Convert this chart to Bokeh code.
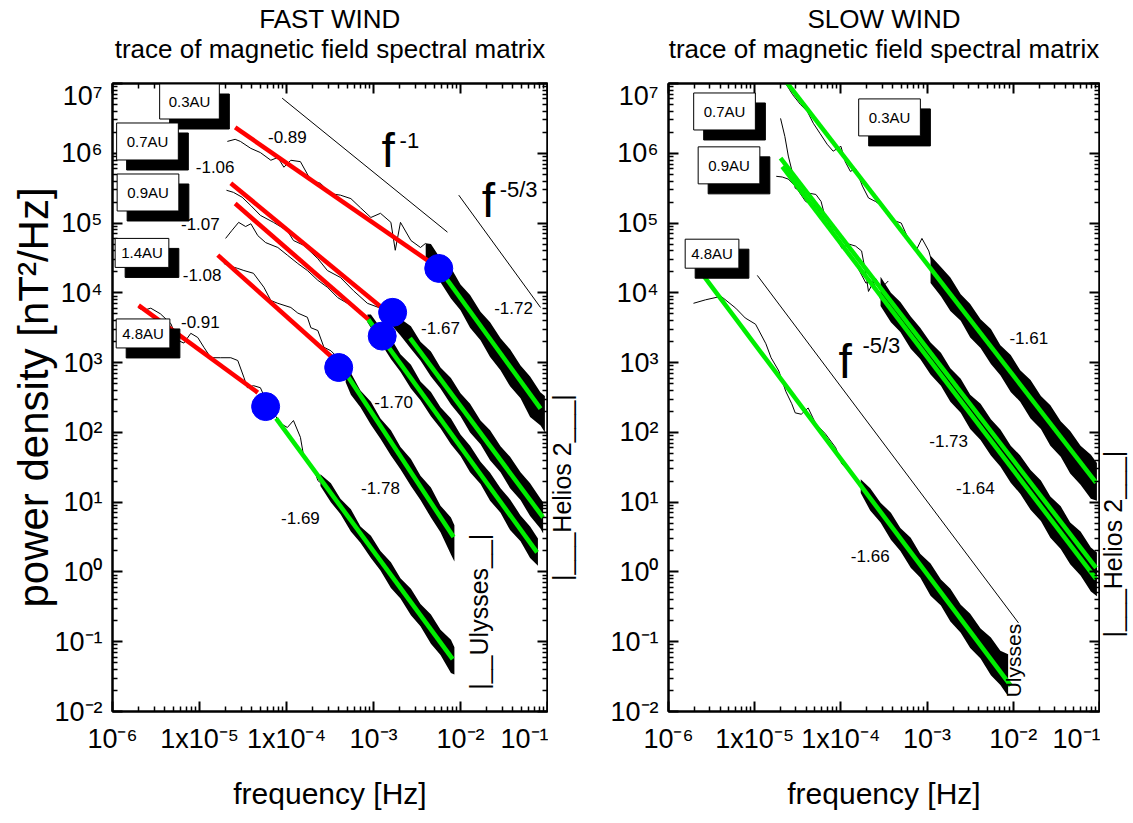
import numpy as np
from bokeh.plotting import figure
from bokeh.layouts import row, column
from bokeh.models import Range1d, LogAxis, FixedTicker, CustomJSTickFormatter, Label
from bokeh.embed import file_html
from bokeh.resources import INLINE
from bokeh.core.properties import value

FONT = "Liberation Sans"
RED = "#ff0000"
GREEN = "#00ee00"
BLUE = "#0000ff"

# ---------------------------------------------------------------- titles
panel_titles = ["FAST WIND", "SLOW WIND"]
panel_subtitle = "trace of magnetic field spectral matrix"

# ---------------------------------------------------------------- axes / ticks
# all chart values below are powers of ten (decade exponents)
x_range_exp = [-6, -1]
y_range_exp = [-2, 7]
x_tick_exp = [-6, -5, -4, -3, -2, -1]
x_tick_labels = ["10⁻⁶", "1x10⁻⁵", "1x10⁻⁴", "10⁻³", "10⁻²", "10⁻¹"]
y_tick_exp = [-2, -1, 0, 1, 2, 3, 4, 5, 6, 7]
y_tick_labels = ["10⁻²", "10⁻¹", "10⁰", "10¹", "10²", "10³", "10⁴", "10⁵", "10⁶", "10⁷"]

# ---------------------------------------------------------------- FAST WIND spectra
fast_names = ["0.3AU", "0.7AU", "0.9AU", "1.4AU", "4.8AU"]

fast_03_thin_logf = [-4.68, -4.59, -4.53, -4.41, -4.30, -4.18, -4.10, -4.03, -3.95, -3.84, -3.72, -3.61,
                     -3.49, -3.38, -3.26, -3.15, -3.03, -2.92, -2.80, -2.75, -2.69, -2.57, -2.46, -2.40]
fast_03_thin_logP = [6.17, 6.20, 6.17, 6.07, 6.01, 5.90, 5.94, 5.80, 5.90, 5.88, 5.61, 5.57,
                     5.42, 5.40, 5.35, 5.22, 5.08, 5.14, 5.01, 4.61, 5.01, 4.75, 4.65, 4.71]
fast_03_band_logf = [-2.40, -2.34, -2.23, -2.11, -2.00, -1.89, -1.77, -1.66, -1.54, -1.43, -1.31, -1.20, -1.08, -1.03]
fast_03_band_hi = [4.71, 4.70, 4.49, 4.36, 4.12, 3.97, 3.73, 3.58, 3.35, 3.19, 2.96, 2.80, 2.57, 2.52]
fast_03_band_lo = [4.49, 4.33, 4.15, 3.92, 3.75, 3.50, 3.32, 3.08, 2.89, 2.66, 2.49, 2.22, 2.10, 2.00]

fast_07_thin_logf = [-4.69, -4.61, -4.51, -4.41, -4.30, -4.15, -3.99, -3.92, -3.80, -3.64, -3.53, -3.38, -3.23, -3.07, -2.92, -2.86]
fast_07_thin_logP = [5.47, 5.44, 5.37, 5.25, 5.11, 5.01, 4.89, 4.75, 4.68, 4.49, 4.32, 4.22, 4.03, 3.85, 3.78, 3.82]
fast_07_band_logf = [-2.86, -2.80, -2.69, -2.57, -2.46, -2.34, -2.23, -2.11, -2.00, -1.89, -1.77, -1.66, -1.54,
                     -1.43, -1.31, -1.20, -1.08, -1.05]
fast_07_band_hi = [3.82, 3.80, 3.63, 3.52, 3.30, 3.16, 2.93, 2.78, 2.56, 2.41, 2.17, 2.03, 1.80, 1.65, 1.43, 1.27, 1.05, 1.00]
fast_07_band_lo = [3.63, 3.55, 3.39, 3.20, 3.03, 2.80, 2.63, 2.40, 2.23, 2.00, 1.83, 1.60, 1.43, 1.20, 1.03, 0.80, 0.62, 0.55]

fast_09_thin_logf = [-4.70, -4.63, -4.55, -4.47, -4.41, -4.33, -4.24, -4.10, -3.99, -3.87, -3.76, -3.64, -3.53,
                     -3.41, -3.30, -3.18, -3.07]
fast_09_thin_logP = [4.78, 4.89, 5.01, 4.95, 4.99, 4.82, 4.72, 4.65, 4.54, 4.42, 4.32, 4.18, 4.08, 3.93, 3.85, 3.75, 3.63]
fast_09_band_logf = [-3.07, -3.03, -2.92, -2.80, -2.69, -2.57, -2.46, -2.34, -2.23, -2.11, -2.00, -1.89, -1.77,
                     -1.66, -1.54, -1.43, -1.31, -1.20, -1.11]
fast_09_band_hi = [3.69, 3.69, 3.50, 3.35, 3.12, 2.97, 2.73, 2.58, 2.36, 2.20, 1.97, 1.81, 1.58, 1.42, 1.20, 1.04, 0.81, 0.65, 0.48]
fast_09_band_lo = [3.58, 3.50, 3.29, 3.05, 2.87, 2.63, 2.46, 2.23, 2.06, 1.83, 1.66, 1.43, 1.26, 1.02, 0.85, 0.60, 0.44, 0.20, 0.09]

fast_14_thin_logf = [-4.72, -4.64, -4.56, -4.49, -4.38, -4.26, -4.18, -4.10, -3.95, -3.87, -3.76, -3.72, -3.64,
                     -3.57, -3.49, -3.41, -3.32]
fast_14_thin_logP = [4.42, 4.38, 4.35, 4.32, 4.28, 4.08, 3.89, 3.85, 3.79, 3.71, 3.65, 3.50, 3.46, 3.22, 3.17, 3.07, 2.92]
fast_14_band_logf = [-3.32, -3.26, -3.15, -3.03, -2.92, -2.80, -2.69, -2.57, -2.46, -2.34, -2.23, -2.11, -2.07]
fast_14_band_hi = [2.92, 2.85, 2.60, 2.44, 2.20, 2.03, 1.79, 1.62, 1.38, 1.21, 0.95, 0.78, 0.67]
fast_14_band_lo = [2.72, 2.54, 2.36, 2.11, 1.91, 1.67, 1.47, 1.23, 1.03, 0.78, 0.57, 0.25, 0.15]

fast_48_thin_logf = [-5.70, -5.64, -5.56, -5.45, -5.33, -5.25, -5.18, -5.10, -5.02, -4.95, -4.87, -4.76, -4.64,
                     -4.56, -4.49, -4.45, -4.38, -4.30, -4.21, -4.07, -3.99, -3.92, -3.84, -3.80, -3.76, -3.69,
                     -3.64, -3.61]
fast_48_thin_logP = [3.78, 3.75, 3.78, 3.70, 3.56, 3.32, 3.28, 3.42, 3.36, 3.22, 3.07, 3.07, 3.07, 3.03, 2.79,
                     2.64, 2.67, 2.64, 2.39, 2.13, 2.07, 2.17, 1.93, 1.64, 1.56, 1.50, 1.31, 1.28]
fast_48_band_logf = [-3.61, -3.49, -3.38, -3.26, -3.15, -3.03, -2.92, -2.80, -2.69, -2.57, -2.46, -2.34, -2.23, -2.11, -2.07]
fast_48_band_hi = [1.40, 1.27, 1.05, 0.90, 0.65, 0.52, 0.30, 0.14, -0.09, -0.24, -0.46, -0.61, -0.83, -0.97, -1.08]
fast_48_band_lo = [1.23, 1.00, 0.83, 0.58, 0.42, 0.20, 0.02, -0.23, -0.38, -0.62, -0.78, -1.03, -1.19, -1.45, -1.47]

# fits: red = low-frequency fit, green = inertial-range fit, blue = break point
fast_red_logf0 = [-4.59, -4.64, -4.59, -4.79, -5.70]
fast_red_logP0 = [6.37, 5.57, 5.28, 4.54, 3.82]
fast_red_logf1 = [-2.28, -2.83, -3.06, -3.47, -4.33]
fast_red_logP1 = [4.38, 3.71, 3.62, 3.07, 2.57]
fast_green_logf0 = [-2.23, -2.58, -3.06, -3.32, -4.12]
fast_green_logP0 = [4.32, 3.35, 3.62, 2.85, 2.20]
fast_green_logf1 = [-1.08, -1.05, -1.12, -2.08, -2.09]
fast_green_logP1 = [2.34, 0.78, 0.28, 0.50, -1.25]
fast_break_logf = [-2.25, -2.78, -2.90, -3.40, -4.24]
fast_break_logP = [4.35, 3.72, 3.38, 2.93, 2.37]

fast_slope_text = ["-0.89", "-1.06", "-1.07", "-1.08", "-0.91", "-1.72", "-1.67", "-1.70", "-1.78", "-1.69"]
fast_slope_logf = [-3.99, -4.82, -4.99, -4.97, -4.99, -1.39, -2.23, -2.77, -2.92, -3.84]
fast_slope_logP = [6.23, 5.80, 4.99, 4.25, 3.58, 3.78, 3.49, 2.43, 1.20, 0.77]

# reference power laws f^-1 and f^-5/3
fast_ref_logf0 = [-4.05, -2.02]
fast_ref_logP0 = [6.79, 5.40]
fast_ref_logf1 = [-2.15, -1.08]
fast_ref_logP1 = [4.87, 3.79]

fast_box_logf = [-5.115, -5.598, -5.592, -5.661, -5.649]
fast_box_logP = [6.742, 6.169, 5.438, 4.572, 3.418]
fast_box_pad = [9, 10, 10, 6, 6]

# ---------------------------------------------------------------- SLOW WIND spectra
slow_names = ["0.3AU", "0.7AU", "0.9AU", "4.8AU"]

slow_03_thin_logf = [-4.66, -4.64, -4.56, -4.47, -4.39, -4.32, -4.24, -4.16, -4.09, -4.00, -3.95, -3.89, -3.83,
                     -3.75, -3.68, -3.60, -3.48, -3.37, -3.30, -3.22, -3.13, -3.06, -2.98, -2.90]
slow_03_thin_logP = [7.05, 7.00, 6.84, 6.70, 6.60, 6.43, 6.28, 6.13, 6.03, 6.10, 5.88, 5.74, 5.78,
                     5.53, 5.36, 5.31, 5.21, 5.03, 5.00, 4.78, 4.60, 4.78, 4.60, 4.24]
slow_03_band_logf = [-2.96, -2.84, -2.73, -2.61, -2.50, -2.38, -2.26, -2.15, -2.03, -1.92, -1.80, -1.68, -1.57,
                     -1.45, -1.34, -1.22, -1.10, -1.03]
slow_03_band_hi = [4.53, 4.37, 4.22, 3.98, 3.84, 3.62, 3.48, 3.25, 3.11, 2.89, 2.75, 2.52, 2.39, 2.16, 2.02, 1.81, 1.68, 1.56]
slow_03_band_lo = [4.14, 3.95, 3.74, 3.60, 3.36, 3.21, 2.98, 2.82, 2.58, 2.44, 2.20, 2.05, 1.81, 1.65, 1.41, 1.25, 1.05, 1.02]

slow_07_thin_logf = [-4.70, -4.65, -4.61, -4.56, -4.53, -4.46, -4.38, -4.29, -4.23, -4.18, -4.11, -3.99, -3.91,
                     -3.83, -3.76, -3.71, -3.68, -3.60, -3.53, -3.45]
slow_07_thin_logP = [6.50, 6.24, 5.96, 5.71, 5.50, 5.45, 5.43, 5.41, 5.31, 5.07, 4.93, 4.64, 4.70,
                     4.67, 4.60, 4.27, 4.02, 4.21, 4.07, 4.17]
slow_0709_band_logf = [-3.54, -3.42, -3.31, -3.19, -3.08, -2.96, -2.84, -2.73, -2.61, -2.50, -2.38, -2.26, -2.15,
                       -2.03, -1.92, -1.80, -1.68, -1.57, -1.45, -1.34, -1.22, -1.10, -1.03]
slow_07_band_hi = [4.23, 4.00, 3.87, 3.66, 3.50, 3.29, 3.14, 2.92, 2.77, 2.54, 2.41, 2.19, 2.04, 1.81, 1.67,
                   1.46, 1.31, 1.08, 0.94, 0.71, 0.58, 0.35, 0.28]
slow_07_band_lo = [3.95, 3.77, 3.56, 3.41, 3.18, 3.05, 2.81, 2.67, 2.44, 2.29, 2.07, 1.92, 1.70, 1.55, 1.32,
                   1.18, 0.95, 0.81, 0.58, 0.43, 0.21, 0.08, -0.03]

slow_09_thin_logf = [-4.75, -4.68, -4.61, -4.53, -4.41, -4.29, -4.18, -4.06, -3.95, -3.83, -3.71, -3.63, -3.54]
slow_09_thin_logP = [5.67, 5.66, 5.63, 5.53, 5.31, 5.24, 5.03, 4.81, 4.60, 4.42, 4.14, 4.17, 3.91]
slow_09_band_hi = [4.02, 3.85, 3.71, 3.48, 3.33, 3.11, 2.96, 2.74, 2.59, 2.36, 2.22, 1.99, 1.85, 1.62, 1.47,
                   1.25, 1.10, 0.88, 0.73, 0.50, 0.36, 0.15, 0.06]
slow_09_band_lo = [3.81, 3.58, 3.44, 3.20, 3.05, 2.83, 2.67, 2.44, 2.28, 2.05, 1.89, 1.67, 1.51, 1.28, 1.12,
                   0.89, 0.73, 0.49, 0.33, 0.11, -0.05, -0.28, -0.35]

slow_48_thin_logf = [-5.71, -5.57, -5.39, -5.22, -5.11, -4.99, -4.87, -4.81, -4.72, -4.64, -4.57, -4.53, -4.46,
                     -4.38, -4.29, -4.18, -4.06, -3.99, -3.91, -3.83, -3.76]
slow_48_thin_logP = [3.85, 3.90, 3.95, 3.78, 3.64, 3.55, 3.27, 3.07, 2.88, 2.59, 2.41, 2.28, 2.26,
                     2.35, 2.12, 1.98, 1.78, 1.55, 1.45, 1.31, 1.21]
slow_48_band_logf = [-3.77, -3.66, -3.54, -3.42, -3.31, -3.19, -3.08, -2.96, -2.84, -2.73, -2.61, -2.50, -2.38,
                     -2.26, -2.15, -2.06]
slow_48_band_hi = [1.33, 1.20, 0.99, 0.85, 0.63, 0.49, 0.26, 0.12, -0.11, -0.24, -0.47, -0.60, -0.81, -0.94, -1.13, -1.18]
slow_48_band_lo = [1.13, 0.88, 0.71, 0.46, 0.30, 0.06, -0.08, -0.34, -0.48, -0.71, -0.87, -1.09, -1.24, -1.48, -1.62, -1.78]

slow_green_logf0 = [-4.65, -4.70, -4.68, -5.59]
slow_green_logP0 = [7.05, 5.93, 5.81, 4.24]
slow_green_logf1 = [-1.04, -1.04, -1.04, -2.03]
slow_green_logP1 = [1.28, 0.06, -0.10, -1.63]

slow_slope_text = ["-1.61", "-1.73", "-1.64", "-1.66"]
slow_slope_logf = [-1.82, -2.75, -2.44, -3.66]
slow_slope_logP = [3.35, 1.88, 1.21, 0.23]

slow_ref_logf0 = [-4.97]
slow_ref_logP0 = [4.25]
slow_ref_logf1 = [-1.94]
slow_ref_logP1 = [-0.73]

slow_box_logf = [-3.436, -5.350, -5.298, -5.495]
slow_box_logP = [6.514, 6.599, 5.827, 4.561]
slow_box_pad = [10, 10, 10, 6]

# ---------------------------------------------------------------- layout (pixels)
TITLE_H, TOP, FRAME_H, BOTTOM = 80, 3, 628, 105
P1_LEFT, P1_W, S1_W, P2_LEFT, P2_W, S2_W = 112, 435, 52, 68, 431, 30


def pw(a):
    return [10.0 ** v for v in a]


def tick_fmt(exps, labels):
    return CustomJSTickFormatter(args=dict(exps=exps, labels=labels), code="""
        const e = Math.round(Math.log10(tick));
        const i = exps.indexOf(e);
        return i >= 0 ? labels[i] : "";
    """)


def blank_fmt():
    return CustomJSTickFormatter(code="return '';")


def ticker(exps):
    majors = [10.0 ** e for e in exps]
    minors = [m * 10.0 ** e for e in exps[:-1] for m in range(2, 10)]
    return FixedTicker(ticks=majors, minor_ticks=minors)


def style_axis(ax, tk, fmt, labelled, standoff=10):
    ax.ticker = tk
    ax.formatter = fmt
    ax.major_tick_in = 10
    ax.major_tick_out = 0
    ax.minor_tick_in = 5
    ax.minor_tick_out = 0
    ax.axis_line_width = 2
    ax.major_tick_line_width = 2
    ax.minor_tick_line_width = 1.5
    ax.major_label_text_font = FONT
    ax.major_label_text_color = "black"
    ax.major_label_text_font_size = "27px" if labelled else "0px"
    ax.major_label_standoff = standoff if labelled else 0
    ax.axis_label_text_font = FONT
    ax.axis_label_text_font_style = "normal"
    ax.axis_label_text_color = "black"


def make_panel(frame_w, border_left, ylabel):
    p = figure(x_axis_type="log", y_axis_type="log", title=None,
               x_range=Range1d(10.0 ** x_range_exp[0], 10.0 ** x_range_exp[1]),
               y_range=Range1d(10.0 ** y_range_exp[0], 10.0 ** y_range_exp[1]),
               frame_width=frame_w, frame_height=FRAME_H,
               min_border_left=border_left, min_border_right=1,
               min_border_top=TOP, min_border_bottom=BOTTOM,
               output_backend="svg", toolbar_location=None,
               outline_line_color="black", outline_line_width=2,
               background_fill_color="white", border_fill_color="white")
    p.grid.visible = False
    top = LogAxis()
    right = LogAxis()
    p.add_layout(top, "above")
    p.add_layout(right, "right")
    style_axis(p.below[0], ticker(x_tick_exp), tick_fmt(x_tick_exp, x_tick_labels), True, 12)
    style_axis(p.left[0], ticker(y_tick_exp), tick_fmt(y_tick_exp, y_tick_labels), True, 10)
    style_axis(top, ticker(x_tick_exp), blank_fmt(), False)
    style_axis(right, ticker(y_tick_exp), blank_fmt(), False)
    p.below[0].axis_label = "frequency [Hz]"
    p.below[0].axis_label_text_font_size = "30px"
    p.below[0].axis_label_standoff = 20
    if ylabel:
        p.left[0].axis_label = ylabel
        p.left[0].axis_label_text_font_size = "42px"
        p.left[0].axis_label_standoff = -6
    return p


def side_strip(frame_w):
    s = figure(y_axis_type="log", title=None, x_range=Range1d(0, 1),
               y_range=Range1d(10.0 ** y_range_exp[0], 10.0 ** y_range_exp[1]),
               frame_width=frame_w, frame_height=FRAME_H,
               min_border_left=0, min_border_right=0, min_border_top=TOP, min_border_bottom=BOTTOM,
               x_axis_location=None, y_axis_location=None,
               output_backend="svg", toolbar_location=None, outline_line_color=None,
               background_fill_color="white", border_fill_color="white")
    s.grid.visible = False
    return s


def spectrum(p, thin_f, thin_P, band_f, band_hi, band_lo):
    p.varea(x=pw(band_f), y1=pw(band_lo), y2=pw(band_hi), fill_color="black", fill_alpha=1.0)
    p.line(pw(thin_f), pw(thin_P), line_color="black", line_width=1)


def segments(p, f0, P0, f1, P1, color, width):
    p.segment(x0=pw(f0), y0=pw(P0), x1=pw(f1), y1=pw(P1), line_color=color, line_width=width)


def vtext(p, x, y, text, size):
    p.text(x=[x], y=[y], text=[text], text_font=value(FONT), text_font_size=size, text_color="black",
           text_align="center", text_baseline="middle", angle=np.pi / 2)


def boxes(p, names, bf, bP, pads):
    for name, f, P, pad in zip(names, bf, bP, pads):
        p.add_layout(Label(x=10.0 ** f, y=10.0 ** P, text=name, text_font=FONT, text_font_size="15px",
                           text_color="black", text_align="center", text_baseline="middle",
                           background_fill_color="black", border_line_color="black",
                           padding=pad, x_offset=10, y_offset=-10))
        p.add_layout(Label(x=10.0 ** f, y=10.0 ** P, text=name, text_font=FONT, text_font_size="15px",
                           text_color="black", text_align="center", text_baseline="middle",
                           background_fill_color="white", border_line_color="black", border_line_width=1,
                           padding=pad))


def power_law_label(p, f_f, f_P, s_f, s_P, sup):
    p.text(x=[10.0 ** f_f], y=[10.0 ** f_P], text=["f"], text_font=value(FONT), text_font_size="48px",
           text_align="center", text_baseline="middle", text_color="black")
    p.text(x=[10.0 ** s_f], y=[10.0 ** s_P], text=[sup], text_font=value(FONT), text_font_size="22px",
           text_align="left", text_baseline="middle", text_color="black")


# ---------------------------------------------------------------- title strip (pixel coordinates)
total_w = P1_LEFT + P1_W + 1 + S1_W + P2_LEFT + P2_W + 1 + S2_W
title_strip = figure(title=None, x_range=Range1d(0, total_w), y_range=Range1d(0, TITLE_H),
                     frame_width=total_w, frame_height=TITLE_H,
                     min_border_left=0, min_border_right=0, min_border_top=0, min_border_bottom=0,
                     x_axis_location=None, y_axis_location=None,
                     output_backend="svg", toolbar_location=None, outline_line_color=None,
                     background_fill_color="white", border_fill_color="white")
title_strip.grid.visible = False
centre1 = P1_LEFT + P1_W / 2
centre2 = P1_LEFT + P1_W + 1 + S1_W + P2_LEFT + P2_W / 2
title_strip.text(x=[centre1, centre2], y=[TITLE_H - 18, TITLE_H - 18], text=panel_titles,
                 text_font=value(FONT), text_font_size="26px", text_align="center",
                 text_baseline="middle", text_color="black")
title_strip.text(x=[centre1, centre2], y=[TITLE_H - 48, TITLE_H - 48], text=[panel_subtitle, panel_subtitle],
                 text_font=value(FONT), text_font_size="26px", text_align="center",
                 text_baseline="middle", text_color="black")

# ---------------------------------------------------------------- FAST panel
p1 = make_panel(P1_W, P1_LEFT, "power density [nT²/Hz]")
spectrum(p1, fast_03_thin_logf, fast_03_thin_logP, fast_03_band_logf, fast_03_band_hi, fast_03_band_lo)
spectrum(p1, fast_07_thin_logf, fast_07_thin_logP, fast_07_band_logf, fast_07_band_hi, fast_07_band_lo)
spectrum(p1, fast_09_thin_logf, fast_09_thin_logP, fast_09_band_logf, fast_09_band_hi, fast_09_band_lo)
spectrum(p1, fast_14_thin_logf, fast_14_thin_logP, fast_14_band_logf, fast_14_band_hi, fast_14_band_lo)
spectrum(p1, fast_48_thin_logf, fast_48_thin_logP, fast_48_band_logf, fast_48_band_hi, fast_48_band_lo)
segments(p1, fast_ref_logf0, fast_ref_logP0, fast_ref_logf1, fast_ref_logP1, "black", 1)
segments(p1, fast_red_logf0, fast_red_logP0, fast_red_logf1, fast_red_logP1, RED, 4.5)
segments(p1, fast_green_logf0, fast_green_logP0, fast_green_logf1, fast_green_logP1, GREEN, 4.5)
p1.scatter(x=pw(fast_break_logf), y=pw(fast_break_logP), size=28, fill_color=BLUE, line_color=BLUE)
p1.text(x=pw(fast_slope_logf), y=pw(fast_slope_logP), text=fast_slope_text, text_font=value(FONT),
        text_font_size="17px", text_align="center", text_baseline="middle", text_color="black")
power_law_label(p1, -2.83, 6.04, -2.70, 6.18, "-1")
power_law_label(p1, -1.68, 5.32, -1.55, 5.48, "-5/3")
boxes(p1, fast_names, fast_box_logf, fast_box_logP, fast_box_pad)
vtext(p1, 10.0 ** -1.79, 10.0 ** -0.57, "|__Ulysses__|", "25px")

# strip right of the FAST panel carrying the Helios 2 marker
s1 = side_strip(S1_W)
vtext(s1, 0.26, 10.0 ** 1.21, "|___Helios 2___|", "25px")

# ---------------------------------------------------------------- SLOW panel
p2 = make_panel(P2_W, P2_LEFT, None)
spectrum(p2, slow_03_thin_logf, slow_03_thin_logP, slow_03_band_logf, slow_03_band_hi, slow_03_band_lo)
spectrum(p2, slow_07_thin_logf, slow_07_thin_logP, slow_0709_band_logf, slow_07_band_hi, slow_07_band_lo)
spectrum(p2, slow_09_thin_logf, slow_09_thin_logP, slow_0709_band_logf, slow_09_band_hi, slow_09_band_lo)
spectrum(p2, slow_48_thin_logf, slow_48_thin_logP, slow_48_band_logf, slow_48_band_hi, slow_48_band_lo)
segments(p2, slow_ref_logf0, slow_ref_logP0, slow_ref_logf1, slow_ref_logP1, "black", 1)
segments(p2, slow_green_logf0, slow_green_logP0, slow_green_logf1, slow_green_logP1, GREEN, 4.5)
p2.text(x=pw(slow_slope_logf), y=pw(slow_slope_logP), text=slow_slope_text, text_font=value(FONT),
        text_font_size="17px", text_align="center", text_baseline="middle", text_color="black")
power_law_label(p2, -3.95, 3.02, -3.75, 3.24, "-5/3")
boxes(p2, slow_names, slow_box_logf, slow_box_logP, slow_box_pad)
vtext(p2, 10.0 ** -2.00, 10.0 ** -1.27, "Ulysses", "21px")

s2 = side_strip(S2_W)
vtext(s2, 0.43, 10.0 ** 0.40, "|___Helios 2___|", "25px")

layout = column(title_strip, row(p1, s1, p2, s2))
open("out.html", "w").write(file_html(layout, INLINE))
